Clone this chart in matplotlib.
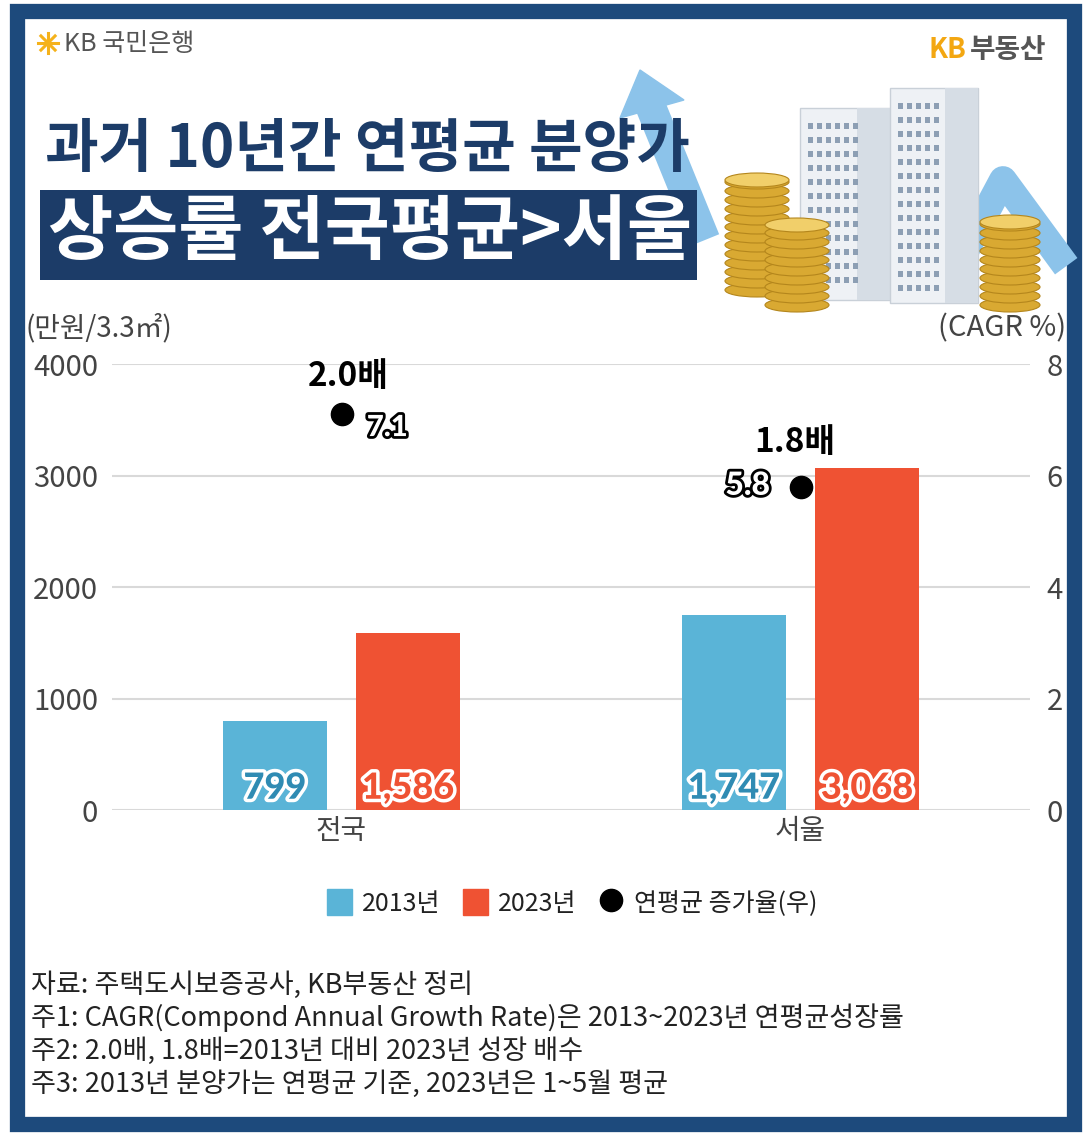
import numpy as np
import matplotlib
matplotlib.use("Agg")
import matplotlib.pyplot as plt
import matplotlib.patches as mpatches
import matplotlib.patheffects as pe
from matplotlib.lines import Line2D

plt.rcParams['font.family'] = ['Noto Sans CJK KR', 'DejaVu Sans']

# 데이터
regions = ["전국", "서울"]
price_2013 = [799, 1747]
price_2023 = [1586, 3068]
cagr = [7.1, 5.8]
multiple = ["2.0배", "1.8배"]
series_names = ["2013년", "2023년", "연평균 증가율(우)"]
notes = [
    "자료: 주택도시보증공사, KB부동산 정리",
    "주1: CAGR(Compond Annual Growth Rate)은 2013~2023년 연평균성장률",
    "주2: 2.0배, 1.8배=2013년 대비 2023년 성장 배수",
    "주3: 2013년 분양가는 연평균 기준, 2023년은 1~5월 평균",
]

C_BLUE = "#5ab4d7"
C_RED = "#ef5233"
C_NAVY = "#1d4a7c"
C_TITLE = "#1c3c68"
C_GRID = "#d9d9d9"
C_TXT = "#444444"
NUM_FONT = ['Lato', 'DejaVu Sans']

W, H = 1089, 1137
fig = plt.figure(figsize=(W / 100, H / 100), dpi=100)

# 배경 / 장식 (픽셀 좌표)
deco = fig.add_axes([0, 0, 1, 1])
deco.set_xlim(0, W)
deco.set_ylim(H, 0)
deco.axis("off")
deco.add_patch(mpatches.Rectangle((17, 11), 1057, 1113, fill=False,
                                  edgecolor=C_NAVY, linewidth=11))

# 화살표
deco.plot([705, 648], [240, 100], color="#8cc3ea", lw=22, solid_capstyle="butt", zorder=1)
deco.add_patch(mpatches.Polygon([[620, 118], [640, 70], [684, 100]], color="#8cc3ea", zorder=1))
deco.plot([955, 1003, 1058], [270, 180, 255], color="#8cc3ea", lw=20, zorder=1)

# 건물
for x0, y0, w, h in [(800, 108, 92, 192), (890, 88, 88, 215)]:
    deco.add_patch(mpatches.Rectangle((x0, y0), w, h, facecolor="#eef1f5",
                                      edgecolor="#c9d0d8", lw=1, zorder=2))
    deco.add_patch(mpatches.Rectangle((x0 + w * 0.62, y0), w * 0.38, h,
                                      facecolor="#d6dde5", zorder=2))
    for yy in np.arange(y0 + 15, y0 + h - 10, 14):
        for xx in np.arange(x0 + 8, x0 + w * 0.58, 9):
            deco.add_patch(mpatches.Rectangle((xx, yy), 5, 6, facecolor="#8d9fb4", zorder=3))

# 동전
for cx, top, bot, w in [(757, 180, 290, 64), (797, 225, 305, 64), (1010, 222, 305, 60)]:
    for yy in np.arange(bot, top, -9):
        deco.add_patch(mpatches.Ellipse((cx, yy), w, 14, facecolor="#d9a932",
                                        edgecolor="#b4861c", lw=0.8, zorder=4))
    deco.add_patch(mpatches.Ellipse((cx, top), w, 14, facecolor="#f1cf6a",
                                    edgecolor="#b4861c", lw=0.8, zorder=4))

# 로고
for ang in np.linspace(0, np.pi, 4, endpoint=False):
    deco.plot([48 - 10 * np.cos(ang), 48 + 10 * np.cos(ang)],
              [43 - 10 * np.sin(ang), 43 + 10 * np.sin(ang)], color="#f5b21b", lw=2.2)
deco.text(64, 44, "KB 국민은행", fontsize=18, color="#555555", va="center", ha="left")
deco.text(966, 50, "KB", fontsize=20, color="#f3a712", fontweight="bold", va="center", ha="right")
deco.text(970, 50, "부동산", fontsize=20, color="#555555", fontweight="bold", va="center", ha="left")

# 제목
deco.text(45, 150, "과거 10년간 연평균 분양가", fontsize=42, color=C_TITLE,
          fontweight="black", va="center", ha="left")
deco.add_patch(mpatches.Rectangle((40, 190), 657, 90, facecolor=C_TITLE, zorder=5))
deco.text(48, 233, "상승률 전국평균>서울", fontsize=51, color="white",
          fontweight="black", va="center", ha="left", zorder=6)

# 단위
deco.text(25, 328, "(만원/3.3㎡)", fontsize=20, color=C_TXT, va="center", ha="left", fontweight="light")
deco.text(1066, 328, "(CAGR %)", fontsize=21, color=C_TXT, va="center", ha="right", fontweight="light")

# 차트
ax = fig.add_axes([112 / W, 1 - 810 / H, 918 / W, 446 / H])
ax.patch.set_alpha(0)
x = np.arange(len(regions))
bw, off = 0.225, 0.145
ax.bar(x - off, price_2013, bw, color=C_BLUE, zorder=2)
ax.bar(x + off, price_2023, bw, color=C_RED, zorder=2)
ax.set_xlim(-0.5, 1.5)
ax.set_ylim(0, 4000)
ax.set_yticks([0, 1000, 2000, 3000, 4000])
ax.set_xticks(x)
ax.set_xticklabels(regions, fontsize=20, color=C_TXT)
ax.grid(axis="y", color=C_GRID, lw=1.5, zorder=0)
for s in ax.spines.values():
    s.set_visible(False)
ax.tick_params(axis="y", length=0, labelsize=21, labelcolor=C_TXT, pad=10)
ax.tick_params(axis="x", length=0, pad=4)
for t in ax.get_yticklabels():
    t.set_fontweight("light")

for i in range(len(regions)):
    ax.text(x[i] - off, 195, f"{price_2013[i]:,}", ha="center", va="center", fontsize=26,
            family=NUM_FONT, fontweight="black", color="#2f8bb3", zorder=5,
            path_effects=[pe.withStroke(linewidth=5, foreground="white")])
    ax.text(x[i] + off, 195, f"{price_2023[i]:,}", ha="center", va="center", fontsize=26,
            family=NUM_FONT, fontweight="black", color=C_RED, zorder=5,
            path_effects=[pe.withStroke(linewidth=5, foreground="white")])

ax2 = ax.twinx()
ax2.set_ylim(0, 8)
ax2.set_yticks([0, 2, 4, 6, 8])
for s in ax2.spines.values():
    s.set_visible(False)
ax2.tick_params(axis="y", length=0, labelsize=21, labelcolor=C_TXT, pad=12)
for t in ax2.get_yticklabels():
    t.set_fontweight("light")
ax2.plot(x, cagr, "o", color="black", markersize=16, linestyle="none", zorder=5)

ax2.annotate(f"{cagr[0]}", (x[0], cagr[0]), xytext=(33, -10), textcoords="offset points",
             ha="center", va="center", fontsize=21, family=NUM_FONT, fontweight="black",
             color="white", path_effects=[pe.withStroke(linewidth=4, foreground="black")])
ax2.annotate(multiple[0], (x[0], cagr[0]), xytext=(5, 27), textcoords="offset points",
             ha="center", va="center", fontsize=24, fontweight="black", color="black")
ax2.annotate(f"{cagr[1]}", (x[1], cagr[1]), xytext=(-38, 1), textcoords="offset points",
             ha="center", va="center", fontsize=23, family=NUM_FONT, fontweight="black",
             color="white", path_effects=[pe.withStroke(linewidth=4, foreground="black")])
ax2.annotate(multiple[1], (x[1], cagr[1]), xytext=(-4, 32), textcoords="offset points",
             ha="center", va="center", fontsize=24, fontweight="black", color="black")

# 범례
handles = [
    mpatches.Patch(color=C_BLUE, label=series_names[0]),
    mpatches.Patch(color=C_RED, label=series_names[1]),
    Line2D([], [], marker="o", color="black", linestyle="none", markersize=16, label=series_names[2]),
]
fig.legend(handles=handles, loc="center", bbox_to_anchor=(572 / W, 1 - 903 / H), ncol=3,
           frameon=False, fontsize=18, handlelength=1.0, handleheight=1.2,
           handletextpad=0.4, columnspacing=0.9, labelcolor="#222222")

# 주석
for k, line in enumerate(notes):
    deco.text(31, 985 + k * 33, line, fontsize=19.5, color="#222222", va="center", ha="left")

plt.savefig("out.png", dpi=100)
plt.close()
